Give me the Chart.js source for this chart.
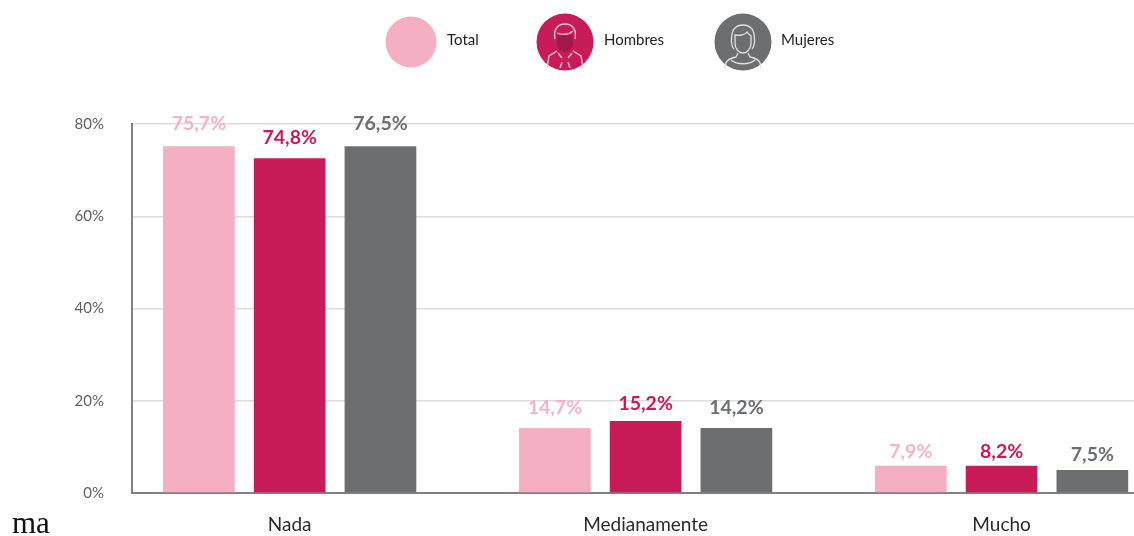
<!DOCTYPE html>
<html lang="es">
<head>
<meta charset="utf-8">
<style>
  html,body{margin:0;padding:0;background:#fff;width:1134px;height:536px;overflow:hidden;position:relative;}
  #c{position:absolute;left:0;top:0;}
  .lg{position:absolute;font:15px Lato,sans-serif;color:#222;line-height:18px;}
  .ic{position:absolute;}
  #stray{position:absolute;left:12px;top:505px;font:31px "Liberation Serif",serif;color:#111;line-height:36px;}
</style>
</head>
<body>
<canvas id="c" width="1134" height="536"></canvas>
<svg class="ic" style="left:385px;top:16px" width="52" height="52"><circle cx="26" cy="26" r="25.5" fill="#F5AFC2"/></svg>
<div class="lg" style="left:447px;top:30px" id="l0"></div>
<svg class="ic" style="left:536px;top:13px" width="58" height="58" fill="none" stroke="#F3C9D6" stroke-width="1.3">
  <circle cx="29" cy="29" r="28.5" fill="#C81B5A" stroke="none"/>
  <path d="M21 22h16v8c0 6-4 9-8 9s-8-3-8-9z" fill="#A21A4A" stroke="none"/>
  <path d="M19 26c-2-10 3-15 10-15s12 5 10 15M21 20c4 2 12 2 16-2M21 38l-8 5-2 12M37 38l8 5 2 12M22 40l4 5M36 40l-4 5M24 55l2-6M34 55l-2-6"/>
</svg>
<div class="lg" style="left:604px;top:30px" id="l1"></div>
<svg class="ic" style="left:714px;top:13px" width="58" height="58" fill="none" stroke="#E2E2E2" stroke-width="1.3">
  <circle cx="29" cy="29" r="28.5" fill="#6D6E70" stroke="none"/>
  <path d="M20 36c-4-4-3-18 1-21 4-4 12-4 16 0 4 3 5 17 1 21"/>
  <path d="M21 22c4 1 10 0 12-3 1 2 3 3 4 4v7c0 6-4 10-8 10s-8-4-8-10z"/>
  <path d="M24 40l-2 4c-5 1-9 3-10 6l-1 6M34 40l2 4c5 1 9 3 10 6l1 6M17 47c6 5 18 5 24 0"/>
</svg>
<div class="lg" style="left:781px;top:30px" id="l2"></div>
<div id="stray">ma</div>
<script src="https://cdn.jsdelivr.net/npm/chart.js@4"></script>
<script>
const categories = ["Nada", "Medianamente", "Mucho"];
const seriesNames = ["Total", "Hombres", "Mujeres"];
const totalBars = [75.2, 14.1, 5.9];
const hombresBars = [72.6, 15.6, 5.9];
const mujeresBars = [75.2, 14.1, 5.0];
const totalLabels = ["75,7%", "14,7%", "7,9%"];
const hombresLabels = ["74,8%", "15,2%", "8,2%"];
const mujeresLabels = ["76,5%", "14,2%", "7,5%"];
const yTicks = [0, 20, 40, 60, 80];

const colors = ["#F5AFC2", "#C81B5A", "#6D6E70"];
const labelColors = ["#F7B3C6", "#C81B5A", "#6D6E70"];
const valueLabels = [totalLabels, hombresLabels, mujeresLabels];
const labelGaps = [[22, 20, 14], [20, 17, 14], [22, 20, 15]];

seriesNames.forEach((n, i) => { document.getElementById("l" + i).textContent = n; });

const toPoints = arr => arr.map((v, i) => ({ x: i, y: v }));

const valueLabelPlugin = {
  id: "valueLabels",
  afterDatasetsDraw(chart) {
    const ctx = chart.ctx;
    ctx.save();
    ctx.textAlign = "center";
    ctx.textBaseline = "middle";
    ctx.font = "bold 19.5px Lato, sans-serif";
    chart.data.datasets.forEach((ds, d) => {
      chart.getDatasetMeta(d).data.forEach((bar, i) => {
        ctx.fillStyle = labelColors[d];
        ctx.fillText(valueLabels[d][i], bar.x, bar.y - labelGaps[d][i]);
      });
    });
    ctx.restore();
  }
};

new Chart(document.getElementById("c"), {
  type: "bar",
  data: {
    labels: categories,
    datasets: [
      { label: seriesNames[0], data: toPoints(totalBars), backgroundColor: colors[0] },
      { label: seriesNames[1], data: toPoints(hombresBars), backgroundColor: colors[1] },
      { label: seriesNames[2], data: toPoints(mujeresBars), backgroundColor: colors[2] }
    ]
  },
  options: {
    responsive: false,
    animation: false,
    categoryPercentage: 0.765,
    barPercentage: 0.79,
    layout: { padding: { top: 124, right: 0, bottom: 0, left: 0 } },
    plugins: { legend: { display: false }, tooltip: { enabled: false } },
    scales: {
      x: {
        type: "linear",
        offset: false,
        min: -0.443,
        max: 2.372,
        afterBuildTicks: s => { s.ticks = categories.map((_, i) => ({ value: i })); },
        afterFit: s => { s.height = 43; },
        grid: { display: false },
        border: { display: true, color: "#808080", width: 2 },
        ticks: {
          autoSkip: false, maxRotation: 0, padding: 12,
          color: "#2a2a2a",
          font: { family: "Lato, sans-serif", size: 19 },
          callback: v => categories[v]
        }
      },
      y: {
        min: 0,
        max: 80,
        afterBuildTicks: s => { s.ticks = yTicks.map(v => ({ value: v })); },
        afterFit: s => { s.width = 132; },
        grid: { color: "#DDDDDD", lineWidth: 1.5, drawTicks: false },
        border: { display: true, color: "#808080", width: 2 },
        ticks: {
          padding: 28,
          color: "#5f5f5f",
          font: { family: "Lato, sans-serif", size: 15 },
          callback: v => v + "%"
        }
      }
    }
  },
  plugins: [valueLabelPlugin]
});
</script>
</body>
</html>
